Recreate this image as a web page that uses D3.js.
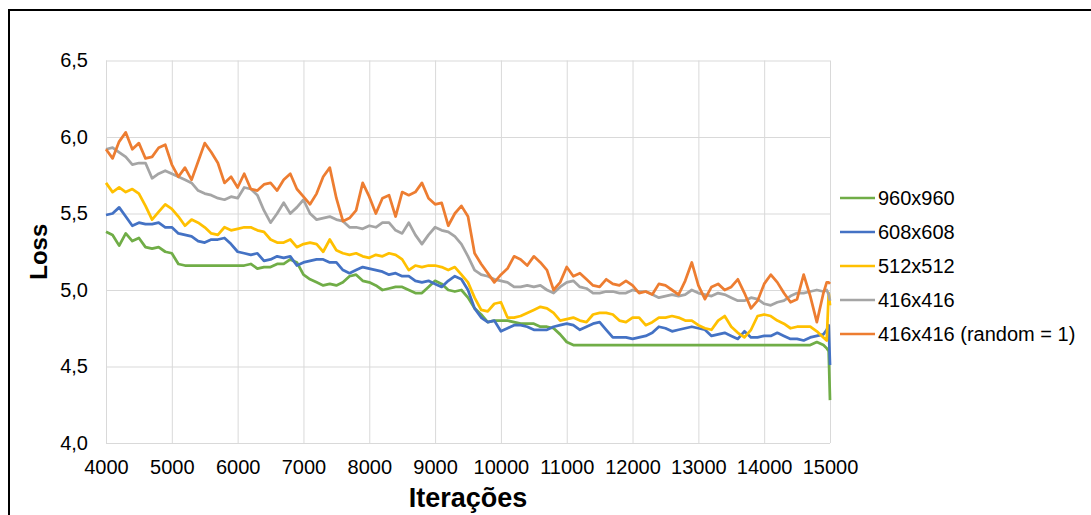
<!DOCTYPE html>
<html>
<head>
<meta charset="utf-8">
<script src="https://cdn.jsdelivr.net/npm/d3@7"></script>
<style>
  body { margin: 0; background: #fff; }
  svg { font-family: "Liberation Sans", Arial, sans-serif; }
</style>
</head>
<body>
<div id="chart"></div>
<script>
// Data
var iterations = [
  4000, 4100, 4200, 4300, 4400, 4500, 4600, 4700, 4800, 4900,
  5000, 5100, 5200, 5300, 5400, 5500, 5600, 5700, 5800, 5900,
  6000, 6100, 6200, 6300, 6400, 6500, 6600, 6700, 6800, 6900,
  7000, 7100, 7200, 7300, 7400, 7500, 7600, 7700, 7800, 7900,
  8000, 8100, 8200, 8300, 8400, 8500, 8600, 8700, 8800, 8900,
  9000, 9100, 9200, 9300, 9400, 9500, 9600, 9700, 9800, 9900,
  10000, 10100, 10200, 10300, 10400, 10500, 10600, 10700, 10800, 10900,
  11000, 11100, 11200, 11300, 11400, 11500, 11600, 11700, 11800, 11900,
  12000, 12100, 12200, 12300, 12400, 12500, 12600, 12700, 12800, 12900,
  13000, 13100, 13200, 13300, 13400, 13500, 13600, 13700, 13800, 13900,
  14000, 14100, 14200, 14300, 14400, 14500, 14600, 14700, 14800, 14900,
  14950, 14980, 15000
];

var loss960 = [
  5.38, 5.36, 5.29, 5.37, 5.32, 5.34, 5.28, 5.27, 5.28, 5.25,
  5.24, 5.17, 5.16, 5.16, 5.16, 5.16, 5.16, 5.16, 5.16, 5.16,
  5.16, 5.16, 5.17, 5.14, 5.15, 5.15, 5.17, 5.17, 5.20, 5.18,
  5.10, 5.07, 5.05, 5.03, 5.04, 5.03, 5.05, 5.09, 5.10, 5.06,
  5.05, 5.03, 5.00, 5.01, 5.02, 5.02, 5.00, 4.98, 4.98, 5.02,
  5.06, 5.04, 5.00, 4.99, 5.00, 4.95, 4.88, 4.84, 4.79, 4.80,
  4.80, 4.80, 4.79, 4.78, 4.78, 4.78, 4.76, 4.76, 4.75, 4.71,
  4.66, 4.64, 4.64, 4.64, 4.64, 4.64, 4.64, 4.64, 4.64, 4.64,
  4.64, 4.64, 4.64, 4.64, 4.64, 4.64, 4.64, 4.64, 4.64, 4.64,
  4.64, 4.64, 4.64, 4.64, 4.64, 4.64, 4.64, 4.64, 4.64, 4.64,
  4.64, 4.64, 4.64, 4.64, 4.64, 4.64, 4.64, 4.64, 4.66, 4.64,
  4.62, 4.60, 4.28
];

var loss608 = [
  5.49, 5.50, 5.54, 5.48, 5.42, 5.44, 5.43, 5.43, 5.44, 5.41,
  5.41, 5.37, 5.36, 5.35, 5.32, 5.31, 5.33, 5.33, 5.34, 5.30,
  5.25, 5.24, 5.23, 5.24, 5.19, 5.20, 5.22, 5.21, 5.22, 5.16,
  5.18, 5.19, 5.20, 5.20, 5.18, 5.18, 5.13, 5.11, 5.13, 5.15,
  5.14, 5.13, 5.12, 5.10, 5.11, 5.09, 5.09, 5.06, 5.05, 5.06,
  5.04, 5.02, 5.06, 5.09, 5.07, 5.00, 4.88, 4.82, 4.79, 4.80,
  4.73, 4.75, 4.77, 4.77, 4.76, 4.74, 4.74, 4.74, 4.76, 4.77,
  4.78, 4.77, 4.74, 4.76, 4.78, 4.79, 4.74, 4.69, 4.69, 4.69,
  4.68, 4.69, 4.70, 4.72, 4.76, 4.75, 4.73, 4.74, 4.75, 4.76,
  4.75, 4.74, 4.70, 4.71, 4.72, 4.70, 4.68, 4.73, 4.69, 4.69,
  4.70, 4.70, 4.72, 4.70, 4.68, 4.68, 4.67, 4.69, 4.70, 4.71,
  4.74, 4.77, 4.51
];

var loss512 = [
  5.70, 5.64, 5.67, 5.64, 5.66, 5.63, 5.55, 5.46, 5.51, 5.56,
  5.53, 5.48, 5.42, 5.46, 5.44, 5.41, 5.37, 5.36, 5.41, 5.39,
  5.40, 5.41, 5.41, 5.39, 5.38, 5.33, 5.31, 5.31, 5.33, 5.28,
  5.30, 5.31, 5.30, 5.25, 5.33, 5.26, 5.24, 5.23, 5.24, 5.22,
  5.21, 5.23, 5.22, 5.24, 5.23, 5.20, 5.13, 5.16, 5.15, 5.16,
  5.16, 5.15, 5.13, 5.15, 5.10, 5.05, 4.95, 4.87, 4.86, 4.91,
  4.92, 4.82, 4.82, 4.83, 4.85, 4.87, 4.89, 4.88, 4.85, 4.80,
  4.81, 4.82, 4.80, 4.79, 4.84, 4.85, 4.85, 4.84, 4.80, 4.79,
  4.82, 4.82, 4.77, 4.79, 4.82, 4.82, 4.83, 4.82, 4.80, 4.80,
  4.77, 4.75, 4.74, 4.80, 4.83, 4.76, 4.72, 4.69, 4.74, 4.83,
  4.84, 4.83, 4.80, 4.78, 4.75, 4.76, 4.76, 4.76, 4.73, 4.69,
  4.67, 4.98, 4.90
];

var loss416 = [
  5.92, 5.93, 5.90, 5.87, 5.82, 5.83, 5.83, 5.73, 5.76, 5.78,
  5.76, 5.74, 5.72, 5.70, 5.65, 5.63, 5.62, 5.60, 5.59, 5.61,
  5.60, 5.67, 5.66, 5.62, 5.52, 5.44, 5.50, 5.57, 5.50, 5.54,
  5.59, 5.50, 5.46, 5.47, 5.48, 5.46, 5.45, 5.41, 5.41, 5.40,
  5.42, 5.41, 5.44, 5.44, 5.39, 5.37, 5.44, 5.36, 5.30, 5.36,
  5.41, 5.39, 5.38, 5.35, 5.30, 5.22, 5.13, 5.10, 5.09, 5.07,
  5.06, 5.05, 5.02, 5.02, 5.03, 5.02, 5.03, 5.00, 4.98, 5.02,
  5.05, 5.06, 5.02, 5.01, 4.98, 4.98, 4.99, 4.99, 4.98, 4.98,
  5.00, 4.99, 4.99, 4.97, 4.95, 4.96, 4.97, 4.96, 4.97, 5.00,
  4.98, 4.97, 4.96, 4.98, 4.97, 4.95, 4.93, 4.93, 4.95, 4.94,
  4.91, 4.90, 4.92, 4.93, 4.96, 4.98, 4.98, 4.99, 5.00, 4.99,
  5.00, 4.97, 4.93
];

var loss416r = [
  5.92, 5.86, 5.97, 6.03, 5.92, 5.96, 5.86, 5.87, 5.93, 5.95,
  5.82, 5.74, 5.80, 5.72, 5.84, 5.96, 5.90, 5.83, 5.70, 5.74,
  5.67, 5.76, 5.66, 5.65, 5.69, 5.70, 5.65, 5.72, 5.76, 5.66,
  5.61, 5.56, 5.63, 5.74, 5.80, 5.60, 5.45, 5.47, 5.52, 5.70,
  5.61, 5.50, 5.60, 5.62, 5.48, 5.64, 5.62, 5.64, 5.70, 5.60,
  5.56, 5.57, 5.42, 5.50, 5.55, 5.48, 5.24, 5.17, 5.11, 5.05,
  5.10, 5.14, 5.22, 5.20, 5.16, 5.22, 5.18, 5.13, 5.00, 5.05,
  5.15, 5.09, 5.11, 5.07, 5.03, 5.02, 5.07, 5.04, 5.03, 5.06,
  5.03, 4.98, 4.99, 4.97, 5.04, 5.03, 5.00, 4.97, 5.06, 5.18,
  5.03, 4.94, 5.02, 5.04, 5.00, 5.02, 5.07, 4.98, 4.88, 4.93,
  5.04, 5.10, 5.05, 4.98, 4.92, 4.94, 5.10, 4.96, 4.79, 4.98,
  5.05, 5.05, 5.04
];

var seriesNames = ["960x960", "608x608", "512x512", "416x416", "416x416 (random = 1)"];
var seriesColors = ["#70ad47", "#4472c4", "#ffc000", "#a5a5a5", "#ed7d31"];
var seriesValues = [loss960, loss608, loss512, loss416, loss416r];

var xTicks = [4000, 5000, 6000, 7000, 8000, 9000, 10000, 11000, 12000, 13000, 14000, 15000];
var yTicks = [4.0, 4.5, 5.0, 5.5, 6.0, 6.5];

var xTitle = "Iterações";
var yTitle = "Loss";

// set dimensions and margins
var width = 1091, height = 515;
var margin = {top: 60.5, left: 106, right: 261, bottom: 72};
var plotW = width - margin.left - margin.right,
    plotH = height - margin.top - margin.bottom;

// Create svg
var svg = d3.select("#chart")
  .append("svg")
    .attr("width", width)
    .attr("height", height);

// outer frame (cut off on the right and bottom)
svg.append("rect")
  .attr("x", 9)
  .attr("y", 10)
  .attr("width", 1200)
  .attr("height", 700)
  .attr("fill", "none")
  .attr("stroke", "#000")
  .attr("stroke-width", 2);

var g = svg.append("g")
  .attr("transform", "translate(" + margin.left + "," + margin.top + ")");

var x = d3.scaleLinear()
  .domain([4000, 15000])
  .range([0, plotW]);

var y = d3.scaleLinear()
  .domain([4, 6.5])
  .range([plotH, 0]);

// Add X axis with vertical grid lines
var xAxis = g.append("g")
  .attr("transform", "translate(0," + plotH + ")")
  .call(d3.axisBottom(x)
    .tickValues(xTicks)
    .tickSize(-plotH)
    .tickPadding(17)
    .tickFormat(function(d) { return String(d); }));

// Add Y axis with horizontal grid lines
var yAxis = g.append("g")
  .call(d3.axisLeft(y)
    .tickValues(yTicks)
    .tickSize(-plotW)
    .tickPadding(18)
    .tickFormat(function(d) { return d3.format(".1f")(d).replace(".", ","); }));

[xAxis, yAxis].forEach(function(ax) {
  ax.select(".domain").remove();
  ax.selectAll(".tick line")
    .attr("stroke", "#d9d9d9")
    .attr("stroke-width", 1);
  ax.selectAll(".tick text")
    .attr("fill", "#000")
    .style("font-size", "20px")
    .style("font-family", "'Liberation Sans', Arial, sans-serif");
});

// Add the lines
var line = d3.line()
  .x(function(d, i) { return x(iterations[i]); })
  .y(function(d) { return y(d); });

seriesValues.forEach(function(vals, k) {
  g.append("path")
    .datum(vals)
    .attr("fill", "none")
    .attr("stroke", seriesColors[k])
    .attr("stroke-width", 2.75)
    .attr("stroke-linejoin", "round")
    .attr("d", line);
});

// Axis titles
svg.append("text")
  .attr("transform", "translate(47," + (margin.top + plotH / 2) + ") rotate(-90)")
  .attr("text-anchor", "middle")
  .style("font-size", "24px")
  .style("font-weight", "bold")
  .text(yTitle);

svg.append("text")
  .attr("x", margin.left + plotW / 2)
  .attr("y", 507)
  .attr("text-anchor", "middle")
  .style("font-size", "27px")
  .style("font-weight", "bold")
  .text(xTitle);

// Legend
var legend = svg.append("g")
  .attr("transform", "translate(840,198)");

seriesNames.forEach(function(name, k) {
  var row = legend.append("g")
    .attr("transform", "translate(0," + (k * 34) + ")");
  row.append("line")
    .attr("x1", 0)
    .attr("x2", 35)
    .attr("stroke", seriesColors[k])
    .attr("stroke-width", 2.5);
  row.append("text")
    .attr("x", 38)
    .attr("dy", "0.35em")
    .style("font-size", "20px")
    .text(name);
});
</script>
</body>
</html>
